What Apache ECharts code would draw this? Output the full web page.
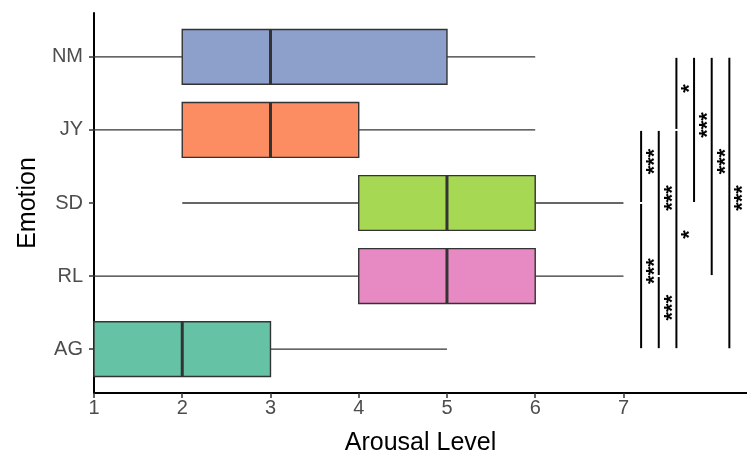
<!DOCTYPE html>
<html><head><meta charset="utf-8">
<script src="https://cdn.jsdelivr.net/npm/echarts@6/dist/echarts.min.js"></script>
<style>html,body{margin:0;padding:0;background:#fff}#c{width:747px;height:455px}</style>
</head><body><div id="c"></div>
<script>
// ---- data ----
const categories = ['AG', 'RL', 'SD', 'JY', 'NM'];
const boxColors = ['#66C2A5', '#E78AC3', '#A6D854', '#FC8D62', '#8DA0CB'];
const whiskerLow = [1, 1, 2, 1, 1];
const q1 = [1, 4, 4, 2, 2];
const median = [2, 5, 5, 3, 3];
const q3 = [3, 6, 6, 4, 5];
const whiskerHigh = [5, 7, 7, 6, 6];
const xTicks = [1, 2, 3, 4, 5, 6, 7];
// significance comparisons
const compX = [7.2, 7.2, 7.4, 7.4, 7.6, 7.6, 7.8, 8.0, 8.2];
const compFrom = ['JY', 'SD', 'JY', 'RL', 'NM', 'JY', 'NM', 'NM', 'NM'];
const compTo = ['SD', 'AG', 'RL', 'AG', 'JY', 'AG', 'SD', 'RL', 'AG'];
const compLabel = ['***', '***', '***', '***', '*', '*', '***', '***', '***'];

const catIndex = c => categories.indexOf(c);
const boxData = categories.map((c, i) => [i, whiskerLow[i], q1[i], median[i], q3[i], whiskerHigh[i]]);
const compData = compX.map((x, i) => [x, catIndex(compFrom[i]), catIndex(compTo[i])]);
const FONT = 'Liberation Sans, Arial, sans-serif';

function renderBox(params, api) {
  const cat = api.value(0);
  const lo = api.coord([api.value(1), cat]);
  const b1 = api.coord([api.value(2), cat]);
  const md = api.coord([api.value(3), cat]);
  const b3 = api.coord([api.value(4), cat]);
  const hi = api.coord([api.value(5), cat]);
  const h = api.size([0, 0.75])[1];
  const yc = lo[1];
  const ls = { stroke: '#333333', lineWidth: 1.4 };
  return {
    type: 'group',
    children: [
      { type: 'line', shape: { x1: lo[0], y1: yc, x2: b1[0], y2: yc }, style: ls },
      { type: 'line', shape: { x1: b3[0], y1: yc, x2: hi[0], y2: yc }, style: ls },
      { type: 'rect', shape: { x: b1[0], y: yc - h / 2, width: b3[0] - b1[0], height: h },
        style: { fill: boxColors[params.dataIndex], stroke: '#333333', lineWidth: 1.4 } },
      { type: 'line', shape: { x1: md[0], y1: yc - h / 2, x2: md[0], y2: yc + h / 2 },
        style: { stroke: '#333333', lineWidth: 3 } }
    ]
  };
}

function renderComp(params, api) {
  const x = api.value(0);
  const p1 = api.coord([x, api.value(1)]);
  const p2 = api.coord([x, api.value(2)]);
  const top = Math.min(p1[1], p2[1]), bot = Math.max(p1[1], p2[1]);
  return {
    type: 'group',
    children: [
      { type: 'line', shape: { x1: p1[0], y1: top + 1, x2: p1[0], y2: bot - 1 },
        style: { stroke: '#000', lineWidth: 2 } },
      { type: 'text', x: p1[0] + 14, y: (top + bot) / 2 - 5, rotation: Math.PI / 2,
        style: { text: compLabel[params.dataIndex], fill: '#000', fontSize: 22, fontWeight: 'bold',
          fontFamily: FONT, align: 'center', verticalAlign: 'middle' } }
    ]
  };
}

const chart = echarts.init(document.getElementById('c'), null, { renderer: 'canvas' });
chart.setOption({
  animation: false,
  backgroundColor: '#fff',
  textStyle: { fontFamily: FONT },
  grid: { left: 94, right: 0, top: 13, bottom: 62, containLabel: false, outerBoundsMode: 'none' },
  xAxis: {
    type: 'value', min: 1, max: 8.4,
    name: 'Arousal Level', nameLocation: 'middle', nameGap: 38,
    nameTextStyle: { fontSize: 25, color: '#000', fontFamily: FONT },
    axisLine: { show: true, onZero: false, lineStyle: { color: '#000', width: 2 } },
    axisTick: { show: true, customValues: xTicks, length: 5, lineStyle: { color: '#333', width: 1.5 } },
    axisLabel: { customValues: xTicks, color: '#4D4D4D', fontSize: 20, margin: 5, fontFamily: FONT },
    splitLine: { show: false }
  },
  yAxis: {
    type: 'value', min: -0.6, max: 4.6,
    name: 'Emotion', nameLocation: 'middle', nameGap: 50, nameRotate: 90,
    nameTextStyle: { fontSize: 25, color: '#000', fontFamily: FONT },
    axisLine: { show: true, onZero: false, lineStyle: { color: '#000', width: 2 } },
    axisTick: { show: true, customValues: [0, 1, 2, 3, 4], length: 5, lineStyle: { color: '#333', width: 1.5 } },
    axisLabel: { customValues: [0, 1, 2, 3, 4], color: '#4D4D4D', fontSize: 20, margin: 11, fontFamily: FONT,
      formatter: v => categories[Math.round(v)] },
    splitLine: { show: false }
  },
  series: [
    { type: 'custom', renderItem: renderBox, data: boxData, encode: { x: [1, 2, 3, 4, 5], y: 0 }, clip: false, z: 2 },
    { type: 'custom', renderItem: renderComp, data: compData, encode: { x: 0, y: [1, 2] }, clip: false, z: 3 }
  ]
});
</script>
</body></html>
